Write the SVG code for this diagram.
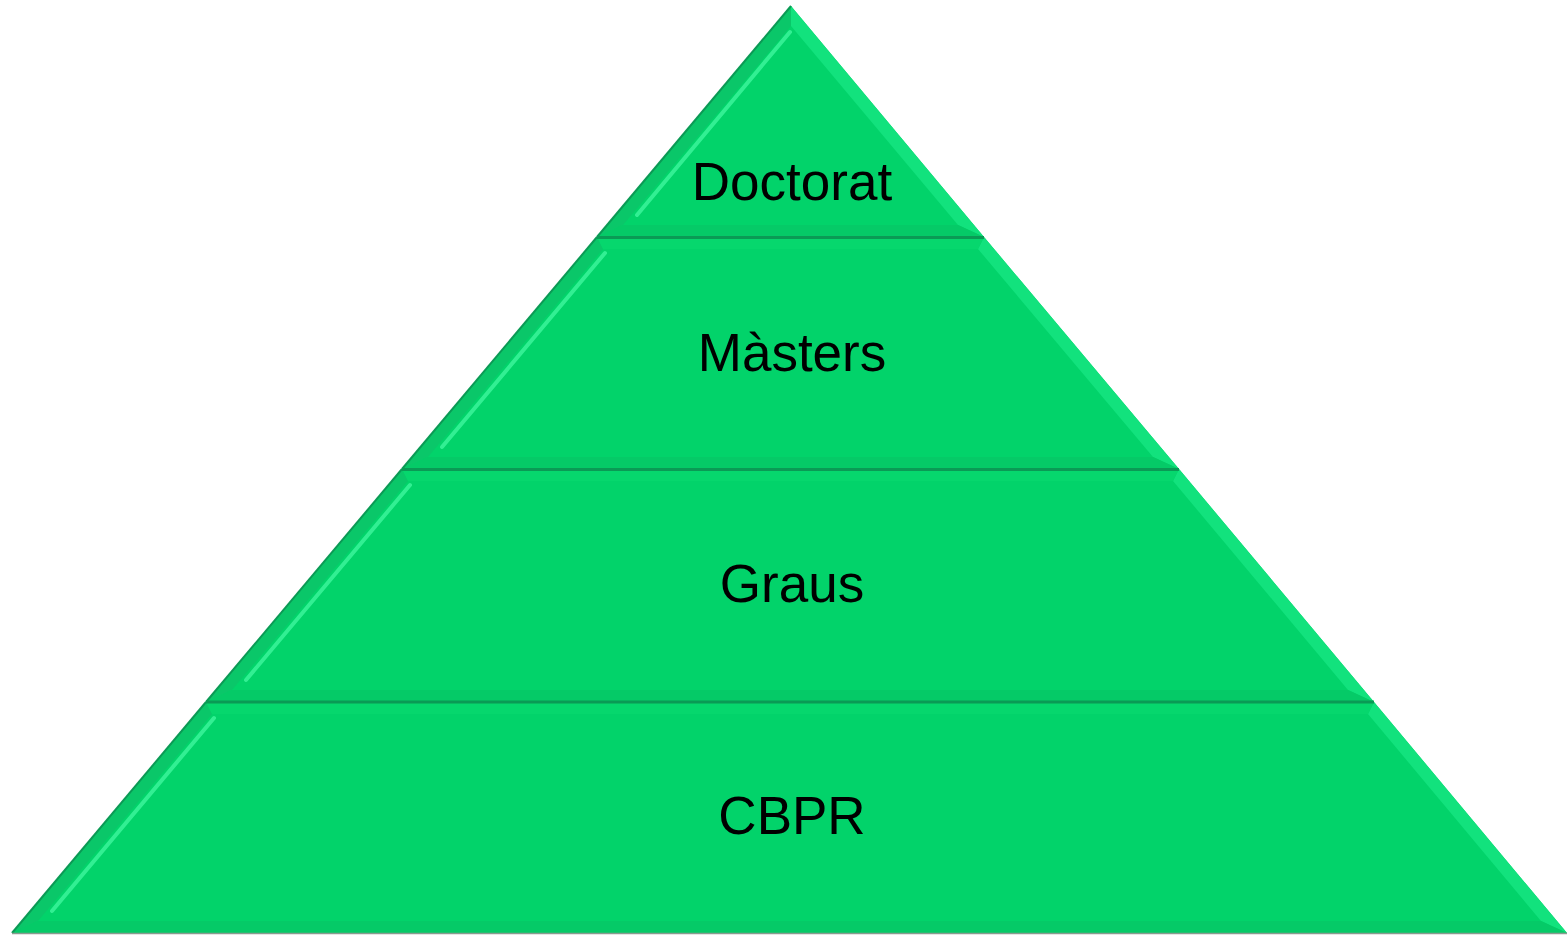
<svg xmlns="http://www.w3.org/2000/svg" width="1568" height="935" viewBox="0 0 1568 935">
<style>
.face{fill:#02d36a}
.lb{fill:#0ac769}
.rb{fill:#12e27d}
.bb{fill:#05ca67}
.tb{fill:#06d76d}
.hl{fill:none;stroke:#3ff69d;stroke-width:4;stroke-linecap:round;stroke-linejoin:round;opacity:0.8}
.edge{fill:none;stroke:#0b9a55;stroke-width:2}
.sep{fill:none;stroke:#0a9a55;stroke-width:3}
.lbl{font-family:"Liberation Sans",Arial,sans-serif;font-size:53px;fill:#000;text-anchor:middle}
</style>
<rect width="1568" height="935" fill="#ffffff"/>
<g id="tier-cbpr">
<polygon class="face" points="206,702 1374,702 1567,933 12,933"/>
<polygon class="lb" points="206,702 212,714 38,921 12,933"/>
<polygon class="rb" points="1374,702 1368,714 1541,921 1567,933"/>
<polygon class="bb" points="38,921 1541,921 1567,933 12,933"/>
<polygon class="tb" points="206,702 1374,702 1368,714 212,714"/>
<polyline class="hl" points="214,718 52,911"/>
<line class="edge" x1="206" y1="702" x2="12" y2="933"/>
<line x1="12" y1="933.5" x2="1567" y2="933.5" stroke="#8a9a90" stroke-width="1.5"/>
<text class="lbl" x="792" y="834">CBPR</text>
</g>
<g id="tier-graus">
<polygon class="face" points="402,469 1179,469 1374,702 206,702"/>
<polygon class="lb" points="402,469 408,481 232,690 206,702"/>
<polygon class="rb" points="1179,469 1173,481 1348,690 1374,702"/>
<polygon class="bb" points="232,690 1348,690 1374,702 206,702"/>
<polygon class="tb" points="402,469 1179,469 1173,481 408,481"/>
<polyline class="hl" points="410,485 246,680"/>
<line class="edge" x1="402" y1="469" x2="206" y2="702"/>
<text class="lbl" x="792" y="602">Graus</text>
</g>
<g id="tier-masters">
<polygon class="face" points="597,237 984,237 1179,469 402,469"/>
<polygon class="lb" points="597,237 603,249 428,457 402,469"/>
<polygon class="rb" points="984,237 978,249 1153,457 1179,469"/>
<polygon class="bb" points="428,457 1153,457 1179,469 402,469"/>
<polygon class="tb" points="597,237 984,237 978,249 603,249"/>
<polyline class="hl" points="605,253 442,447"/>
<line class="edge" x1="597" y1="237" x2="402" y2="469"/>
<text class="lbl" x="792" y="371">Màsters</text>
</g>
<g id="tier-doctorat">
<polygon class="face" points="791,6 984,237 597,237"/>
<polygon class="lb" points="791,6 791,26 623,225 597,237"/>
<polygon class="rb" points="791,6 791,26 958,225 984,237"/>
<polygon class="bb" points="623,225 958,225 984,237 597,237"/>
<polyline class="hl" points="790,32 637,215"/>
<line class="edge" x1="791" y1="6" x2="597" y2="237"/>
<text class="lbl" x="792" y="200">Doctorat</text>
</g>
<g id="connectors">
<line class="sep" x1="597" y1="237.5" x2="984" y2="237.5"/>
<line class="sep" x1="402" y1="469.5" x2="1179" y2="469.5"/>
<line class="sep" x1="206" y1="702" x2="1374" y2="702"/>
</g>
</svg>
